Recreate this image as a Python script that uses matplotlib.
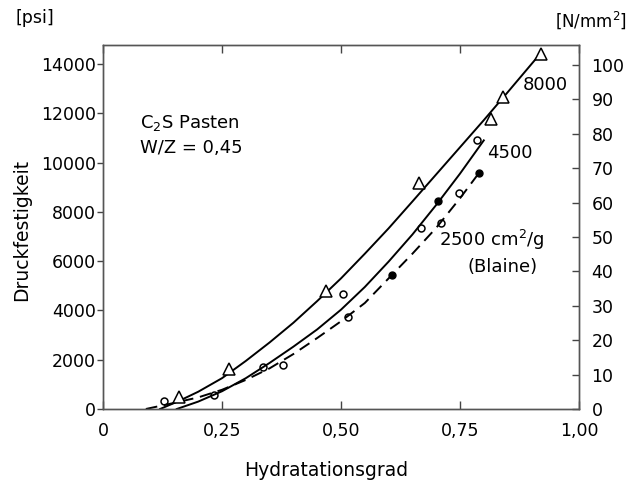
import matplotlib
matplotlib.use("Agg")
import matplotlib.pyplot as plt

plt.rcParams['font.family'] = 'DejaVu Sans'

# curves (Hydratationsgrad, psi)
c8000_x = [0.12, 0.16, 0.20, 0.25, 0.30, 0.35, 0.40, 0.45, 0.50, 0.55, 0.60, 0.65, 0.70, 0.75, 0.80, 0.85, 0.92]
c8000_y = [0, 330, 700, 1250, 1950, 2700, 3500, 4380, 5300, 6300, 7330, 8420, 9520, 10620, 11720, 12850, 14450]

c4500_x = [0.155, 0.20, 0.25, 0.30, 0.35, 0.40, 0.45, 0.50, 0.55, 0.60, 0.65, 0.70, 0.75, 0.80]
c4500_y = [0, 300, 720, 1250, 1870, 2530, 3230, 4030, 4950, 5980, 7080, 8280, 9550, 10900]

c2500_x = [0.09, 0.15, 0.20, 0.25, 0.30, 0.35, 0.40, 0.45, 0.50, 0.55, 0.60, 0.65, 0.70, 0.75, 0.79]
c2500_y = [0, 250, 470, 780, 1180, 1650, 2230, 2880, 3560, 4300, 5300, 6300, 7350, 8550, 9580]

# measured points
tri_x = [0.160, 0.265, 0.468, 0.664, 0.815, 0.840, 0.920]
tri_y = [490, 1620, 4790, 9170, 11770, 12660, 14410]

o4500_x = [0.128, 0.336, 0.504, 0.668, 0.786]
o4500_y = [320, 1700, 4670, 7350, 10920]
f4500_x = [0.704]
f4500_y = [8440]

o2500_x = [0.233, 0.378, 0.515, 0.710, 0.748]
o2500_y = [570, 1790, 3730, 7550, 8770]
f2500_x = [0.607, 0.790]
f2500_y = [5440, 9580]

x_ticks = [0, 0.25, 0.5, 0.75, 1.0]
x_labels = ['0', '0,25', '0,50', '0,75', '1,00']
psi_ticks = list(range(0, 14001, 2000))
nmm_ticks = list(range(0, 101, 10))

fig = plt.figure(figsize=(6.29, 4.83), dpi=100)
ax = fig.add_axes([103 / 629, 74 / 483, 476 / 629, 364 / 483])

k = 'black'
ax.plot(c8000_x, c8000_y, color=k, lw=1.4)
ax.plot(c4500_x, c4500_y, color=k, lw=1.4)
ax.plot(c2500_x, c2500_y, color=k, lw=1.4, linestyle=(0, (6, 3.5)))

ax.plot(tri_x, tri_y, linestyle='none', marker='^', ms=8, mfc='white', mec=k, mew=1.1)
ax.plot(o4500_x, o4500_y, linestyle='none', marker='o', ms=5, mfc='none', mec=k, mew=1.1)
ax.plot(o2500_x, o2500_y, linestyle='none', marker='o', ms=5, mfc='none', mec=k, mew=1.1)
ax.plot(f4500_x + f2500_x, f4500_y + f2500_y, linestyle='none', marker='o', ms=5, mfc=k, mec=k)

ax.set_xlim(0, 1.0)
ax.set_ylim(0, 14770)
ax.set_xticks(x_ticks)
ax.set_xticklabels(x_labels)
ax.set_yticks(psi_ticks)
ax.set_yticklabels([str(v) for v in psi_ticks])
ax.tick_params(axis='x', direction='in', length=6, width=1, pad=9, labelsize=12.5,
               top=True, color='#444')
ax.tick_params(axis='y', direction='out', length=4, width=1, pad=1, labelsize=12.5, color='#444')
for s in ax.spines.values():
    s.set_color('#555')
    s.set_linewidth(1)

ax2 = ax.twinx()
ax2.set_ylim(0, 105.8)
ax2.set_yticks(nmm_ticks)
ax2.tick_params(axis='y', direction='in', length=5, width=1, pad=9, labelsize=12.5, color='#444')
for s in ax2.spines.values():
    s.set_color('#555')
    s.set_linewidth(1)

fig.text(326 / 629, 1 - 470 / 483, 'Hydratationsgrad', fontsize=13.5, ha='center', va='center')
fig.text(22 / 629, 1 - 230 / 483, 'Druckfestigkeit', fontsize=13.5, ha='center', va='center',
         rotation=90)

fig.text(35 / 629, 1 - 18 / 483, '[psi]', fontsize=12.5, ha='center', va='center')
fig.text(627 / 629, 1 - 20 / 483, '[N/mm$^2$]', fontsize=12, ha='right', va='center')

ax.text(0.078, 11600, 'C$_2$S Pasten', fontsize=13, ha='left', va='center')
ax.text(0.078, 10590, 'W/Z = 0,45', fontsize=13, ha='left', va='center')
ax.text(0.930, 13150, '8000', fontsize=13, ha='center', va='center')
ax.text(0.855, 10400, '4500', fontsize=13, ha='center', va='center')
ax.text(0.706, 6850, '2500 cm$^2$/g', fontsize=13, ha='left', va='center')
ax.text(0.840, 5750, '(Blaine)', fontsize=13, ha='center', va='center')

fig.savefig('out.png', dpi=100)
